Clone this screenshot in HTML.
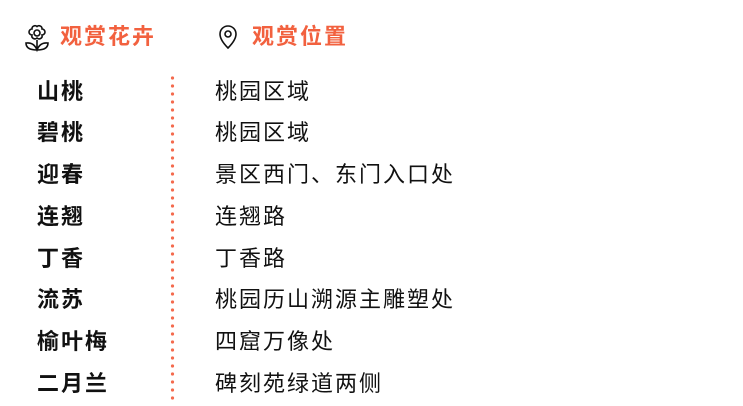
<!DOCTYPE html>
<html><head><meta charset="utf-8"><style>
html,body{margin:0;padding:0;background:#fff;width:743px;height:406px;overflow:hidden;position:relative}
.t{position:absolute;font-family:"Liberation Sans","Noto Sans CJK SC",sans-serif;line-height:1;white-space:nowrap}
.h{color:#f2613f;font-weight:bold;font-size:22px;letter-spacing:2px;top:26px}
.l{left:37px;font-weight:bold;font-size:22px;color:#111;letter-spacing:2px}
.r{left:215px;font-size:22px;color:#111;letter-spacing:2px}
</style></head><body>
<svg style="position:absolute;left:0;top:0" width="743" height="406">
<g fill="none" stroke="#111" stroke-width="1.6">
<circle cx="37" cy="33" r="3"/>
<path d="M37 26.5 a3 3 0 0 1 5 2.5 a3 3 0 0 1 0 6 a3 3 0 0 1 -5 3 a3 3 0 0 1 -5 -3 a3 3 0 0 1 0 -6 a3 3 0 0 1 5 -2.5z"/>
<path d="M37 40 V50 M26 43 q0 7 11 7 q11 0 11 -7 q-8 -1 -11 7 q-3 -8 -11 -7z"/>
<path d="M228 48 q-8 -8 -8 -14 a8 8 0 0 1 16 0 q0 6 -8 14z"/>
<circle cx="228" cy="34" r="3"/>
</g>
</svg>
<svg style="position:absolute;left:0;top:0" width="743" height="406">
<g fill="#f46a4e">
<circle cx="172.5" cy="78" r="1.6"/><circle cx="172.5" cy="86" r="1.6"/><circle cx="172.5" cy="94" r="1.6"/><circle cx="172.5" cy="102" r="1.6"/><circle cx="172.5" cy="110" r="1.6"/><circle cx="172.5" cy="118" r="1.6"/><circle cx="172.5" cy="126" r="1.6"/><circle cx="172.5" cy="134" r="1.6"/><circle cx="172.5" cy="142" r="1.6"/><circle cx="172.5" cy="150" r="1.6"/><circle cx="172.5" cy="158" r="1.6"/><circle cx="172.5" cy="166" r="1.6"/><circle cx="172.5" cy="174" r="1.6"/><circle cx="172.5" cy="182" r="1.6"/><circle cx="172.5" cy="190" r="1.6"/><circle cx="172.5" cy="198" r="1.6"/><circle cx="172.5" cy="206" r="1.6"/><circle cx="172.5" cy="214" r="1.6"/><circle cx="172.5" cy="222" r="1.6"/><circle cx="172.5" cy="230" r="1.6"/><circle cx="172.5" cy="238" r="1.6"/><circle cx="172.5" cy="246" r="1.6"/><circle cx="172.5" cy="254" r="1.6"/><circle cx="172.5" cy="262" r="1.6"/><circle cx="172.5" cy="270" r="1.6"/><circle cx="172.5" cy="278" r="1.6"/><circle cx="172.5" cy="286" r="1.6"/><circle cx="172.5" cy="294" r="1.6"/><circle cx="172.5" cy="302" r="1.6"/><circle cx="172.5" cy="310" r="1.6"/><circle cx="172.5" cy="318" r="1.6"/><circle cx="172.5" cy="326" r="1.6"/><circle cx="172.5" cy="334" r="1.6"/><circle cx="172.5" cy="342" r="1.6"/><circle cx="172.5" cy="350" r="1.6"/><circle cx="172.5" cy="358" r="1.6"/><circle cx="172.5" cy="366" r="1.6"/><circle cx="172.5" cy="374" r="1.6"/><circle cx="172.5" cy="382" r="1.6"/><circle cx="172.5" cy="390" r="1.6"/><circle cx="172.5" cy="398" r="1.6"/>
</g></svg>
<div class="t h" style="left:60px">观赏花卉</div>
<div class="t h" style="left:252px">观赏位置</div>
<div class="t l" style="top:81px">山桃</div><div class="t r" style="top:81px">桃园区域</div>
<div class="t l" style="top:122px">碧桃</div><div class="t r" style="top:122px">桃园区域</div>
<div class="t l" style="top:164px">迎春</div><div class="t r" style="top:164px">景区西门、东门入口处</div>
<div class="t l" style="top:206px">连翘</div><div class="t r" style="top:206px">连翘路</div>
<div class="t l" style="top:248px">丁香</div><div class="t r" style="top:248px">丁香路</div>
<div class="t l" style="top:289px">流苏</div><div class="t r" style="top:289px">桃园历山溯源主雕塑处</div>
<div class="t l" style="top:331px">榆叶梅</div><div class="t r" style="top:331px">四窟万像处</div>
<div class="t l" style="top:373px">二月兰</div><div class="t r" style="top:373px">碑刻苑绿道两侧</div>
</body></html>
